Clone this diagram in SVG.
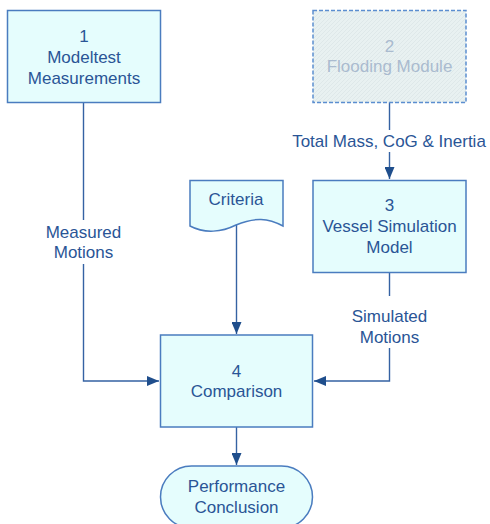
<svg xmlns="http://www.w3.org/2000/svg" width="490" height="524" viewBox="0 0 490 524">
<style>
.box{fill:#e5fdfd;stroke:#4a7cbf;stroke-width:1.5}
.t{font-family:"Liberation Sans",Arial,sans-serif;font-size:17px;fill:#2a5596;text-anchor:middle}
.tg{font-family:"Liberation Sans",Arial,sans-serif;font-size:17px;fill:#aabbcf;text-anchor:middle}
.c{fill:none;stroke:#3562a3;stroke-width:1.4}
</style>
<defs>
<marker id="ah" markerWidth="12" markerHeight="10" refX="12" refY="5" orient="auto" markerUnits="userSpaceOnUse">
<path d="M0,0 L12,5 L0,10 Z" fill="#1f4e8c"/>
</marker>
<pattern id="hatch" width="4" height="4" patternUnits="userSpaceOnUse">
<rect width="4" height="4" fill="#e8f1f1"/>
<path d="M0,4 L4,0" stroke="#d6e2e4" stroke-width="0.6"/>
</pattern>
</defs>
<g id="connectors">
<path class="c" d="M83.5,102 V220 M83.5,264 V381 H159" marker-end="url(#ah)"/>
<path class="c" d="M389.5,102 V130 M389.5,152 V179" marker-end="url(#ah)"/>
<path class="c" d="M236.5,225 V334" marker-end="url(#ah)"/>
<path class="c" d="M389.5,273 V296 M389.5,348 V381 H314" marker-end="url(#ah)"/>
<path class="c" d="M236.5,427 V465" marker-end="url(#ah)"/>
<rect x="40" y="221" width="88" height="42" fill="#fff"/>
<text class="t" x="83.5" y="237.5">Measured</text>
<text class="t" x="83.5" y="258">Motions</text>
<rect x="288" y="131" width="201" height="20" fill="#fff"/>
<text class="t" x="389" y="147">Total Mass, CoG &amp; Inertia</text>
<rect x="345" y="298" width="90" height="48" fill="#fff"/>
<text class="t" x="389.5" y="322">Simulated</text>
<text class="t" x="389.5" y="342.5">Motions</text>
</g>
<g id="node1">
<rect class="box" x="7.5" y="10.5" width="153" height="92"/>
<text class="t" x="84" y="42">1</text>
<text class="t" x="84" y="63">Modeltest</text>
<text class="t" x="84" y="84">Measurements</text>
</g>
<g id="node2">
<rect x="313" y="10.5" width="153" height="92" fill="url(#hatch)" stroke="#5b8ed0" stroke-width="1.5" stroke-dasharray="4,2"/>
<text class="tg" x="389.5" y="52">2</text>
<text class="tg" x="389.5" y="72">Flooding Module</text>
</g>
<g id="node3">
<rect class="box" x="313" y="180.5" width="153" height="92"/>
<text class="t" x="389.5" y="211">3</text>
<text class="t" x="389.5" y="232">Vessel Simulation</text>
<text class="t" x="389.5" y="253">Model</text>
</g>
<g id="criteria">
<path class="box" d="M190,180.5 H283 V226 C268,218 255,217 236,225 C222,232 205,234 190,226 Z"/>
<text class="t" x="236" y="205">Criteria</text>
</g>
<g id="node4">
<rect class="box" x="160.5" y="335" width="152" height="92"/>
<text class="t" x="236.5" y="377">4</text>
<text class="t" x="236.5" y="397">Comparison</text>
</g>
<g id="conclusion">
<rect class="box" x="160.5" y="466" width="152" height="62" rx="31" ry="31"/>
<text class="t" x="236.5" y="492">Performance</text>
<text class="t" x="236.5" y="513">Conclusion</text>
</g>
</svg>
